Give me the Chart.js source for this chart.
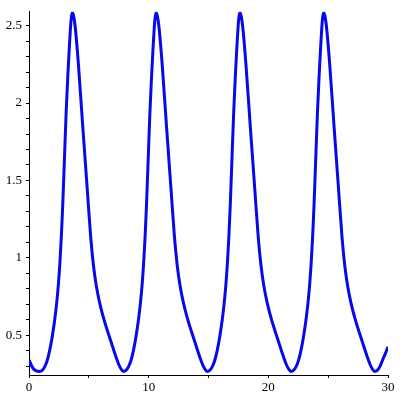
<!DOCTYPE html>
<html>
<head>
<meta charset="utf-8">
<script src="https://cdn.jsdelivr.net/npm/chart.js@4"></script>
<style>
  html, body { margin: 0; padding: 0; background: #fff; }
  #plot { display: block; }
</style>
</head>
<body>
<canvas id="plot" width="400" height="400"></canvas>
<script>
'use strict';
// ---------- Periodic curve, Maple-style plot ----------

// Curve samples (x, y), one row per half-swing
const xs = [
    0.00, 0.30, 0.60, 0.88,
    1.08, 1.32, 1.52, 1.72, 1.94, 2.14, 2.32, 2.46, 2.58, 2.70, 2.82, 2.96, 3.10, 3.24, 3.37, 3.52, 3.62,
    3.72, 3.85, 4.12, 4.50, 4.88, 5.15, 5.38, 5.62, 5.90, 6.25, 6.65, 7.05, 7.33, 7.53, 7.71, 7.88,
    8.08, 8.32, 8.52, 8.72, 8.94, 9.14, 9.32, 9.46, 9.58, 9.70, 9.82, 9.96, 10.10, 10.24, 10.37, 10.52, 10.62,
    10.72, 10.85, 11.12, 11.50, 11.88, 12.15, 12.38, 12.62, 12.90, 13.25, 13.65, 14.05, 14.33, 14.53, 14.71, 14.88,
    15.08, 15.32, 15.52, 15.72, 15.94, 16.14, 16.32, 16.46, 16.58, 16.70, 16.82, 16.96, 17.10, 17.24, 17.37, 17.52, 17.62,
    17.72, 17.85, 18.12, 18.50, 18.88, 19.15, 19.38, 19.62, 19.90, 20.25, 20.65, 21.05, 21.33, 21.53, 21.71, 21.88,
    22.08, 22.32, 22.52, 22.72, 22.94, 23.14, 23.32, 23.46, 23.58, 23.70, 23.82, 23.96, 24.10, 24.24, 24.37, 24.52, 24.62,
    24.72, 24.85, 25.12, 25.50, 25.88, 26.15, 26.38, 26.62, 26.90, 27.25, 27.65, 28.05, 28.33, 28.53, 28.71, 28.88,
    29.08, 29.32, 29.55, 29.80, 30.00,
];
const ys = [
    0.339, 0.290, 0.268, 0.265,
    0.270, 0.296, 0.336, 0.398, 0.490, 0.594, 0.713, 0.833, 0.965, 1.133, 1.343, 1.637, 1.931, 2.170, 2.360, 2.540, 2.585,
    2.565, 2.500, 2.260, 1.840, 1.430, 1.140, 0.955, 0.820, 0.710, 0.605, 0.505, 0.410, 0.345, 0.305, 0.279, 0.265,
    0.270, 0.296, 0.336, 0.398, 0.490, 0.594, 0.713, 0.833, 0.965, 1.133, 1.343, 1.637, 1.931, 2.170, 2.360, 2.540, 2.585,
    2.565, 2.500, 2.260, 1.840, 1.430, 1.140, 0.955, 0.820, 0.710, 0.605, 0.505, 0.410, 0.345, 0.305, 0.279, 0.265,
    0.270, 0.296, 0.336, 0.398, 0.490, 0.594, 0.713, 0.833, 0.965, 1.133, 1.343, 1.637, 1.931, 2.170, 2.360, 2.540, 2.585,
    2.565, 2.500, 2.260, 1.840, 1.430, 1.140, 0.955, 0.820, 0.710, 0.605, 0.505, 0.410, 0.345, 0.305, 0.279, 0.265,
    0.270, 0.296, 0.336, 0.398, 0.490, 0.594, 0.713, 0.833, 0.965, 1.133, 1.343, 1.637, 1.931, 2.170, 2.360, 2.540, 2.585,
    2.565, 2.500, 2.260, 1.840, 1.430, 1.140, 0.955, 0.820, 0.710, 0.605, 0.505, 0.410, 0.345, 0.305, 0.279, 0.265,
    0.270, 0.296, 0.339, 0.385, 0.425,
];

// Tick positions and labels
const xTickValues = [0, 5, 10, 15, 20, 25, 30];
const xTickLabels = ['0', '', '10', '', '20', '', '30'];
const yTickValues = [0.3, 0.4, 0.5, 0.6, 0.7, 0.8, 0.9, 1.0, 1.1, 1.2, 1.3, 1.4, 1.5, 1.6, 1.7,
                     1.8, 1.9, 2.0, 2.1, 2.2, 2.3, 2.4, 2.5];
const yTickLabels = { 0.5: '0.5', 1: '1', 1.5: '1.5', 2: '2', 2.5: '2.5' };

const points = xs.map((x, i) => ({ x, y: ys[i] }));

const tickFont = { family: '"Liberation Serif", "DejaVu Serif", serif', size: 13 };

new Chart(document.getElementById('plot'), {
    type: 'scatter',
    data: {
        datasets: [{
            data: points,
            showLine: true,
            borderColor: 'rgb(8,8,232)',
            borderWidth: 3,
            pointRadius: 0,
            cubicInterpolationMode: 'monotone',
            fill: false,
        }],
    },
    options: {
        responsive: false,
        animation: false,
        events: [],
        layout: { padding: { top: 11, right: 12, bottom: 0, left: 0 } },
        plugins: { legend: { display: false }, tooltip: { enabled: false } },
        scales: {
            x: {
                type: 'linear',
                min: 0,
                max: 30,
                afterFit: s => { s.height = 25; },
                afterBuildTicks: s => { s.ticks = xTickValues.map(v => ({ value: v })); },
                border: { display: true, color: '#000', width: 1 },
                grid: { display: true, drawOnChartArea: false, drawTicks: true, tickLength: 3, color: '#000' },
                ticks: {
                    color: '#000',
                    font: tickFont,
                    padding: 2,
                    maxRotation: 0,
                    autoSkip: false,
                    callback: (v, i) => xTickLabels[i],
                },
            },
            y: {
                type: 'linear',
                min: 0.242,
                max: 2.59,
                afterFit: s => { s.width = 29; },
                afterBuildTicks: s => { s.ticks = yTickValues.map(v => ({ value: v })); },
                border: { display: true, color: '#000', width: 1 },
                grid: { display: true, drawOnChartArea: false, drawTicks: true, tickLength: 3, color: '#000' },
                ticks: {
                    color: '#000',
                    font: tickFont,
                    padding: 4,
                    autoSkip: false,
                    callback: (v, i) => yTickLabels[yTickValues[i]] || '',
                },
            },
        },
    },
});
</script>
</body>
</html>
